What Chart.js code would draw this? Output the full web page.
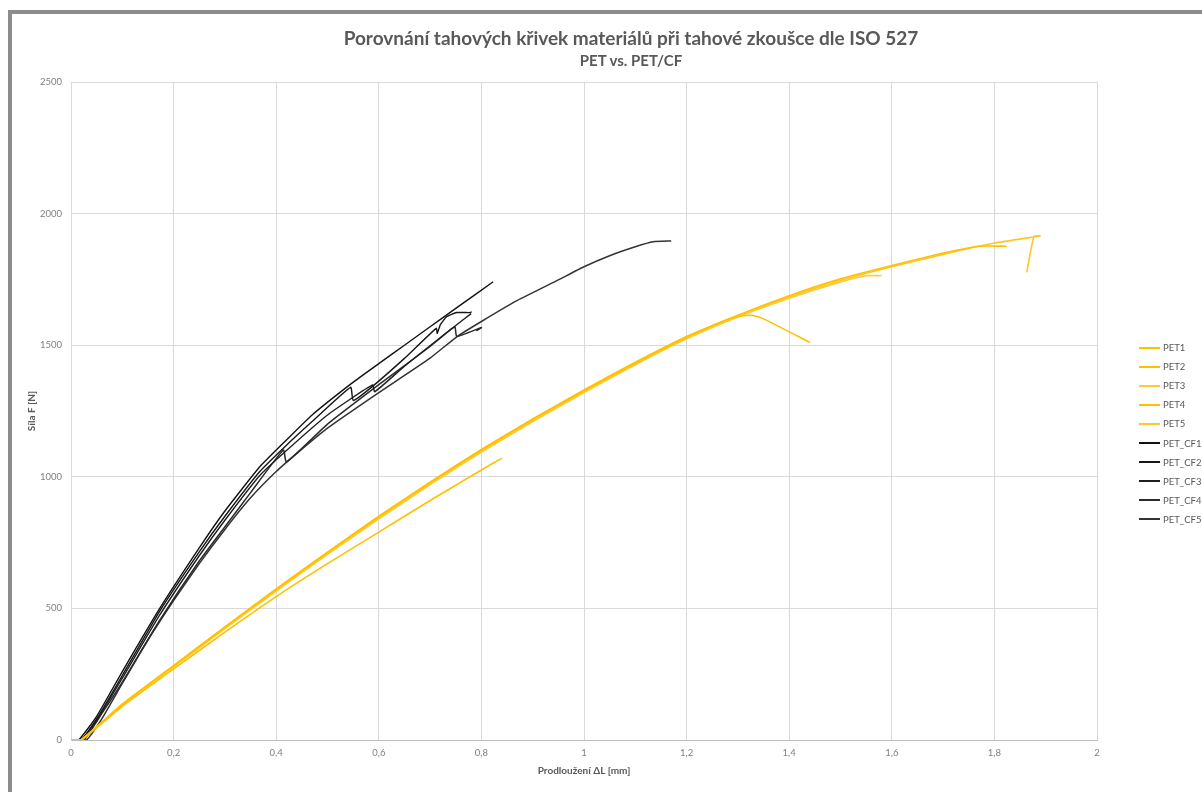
<!DOCTYPE html>
<html>
<head>
<meta charset="utf-8">
<script src="https://cdn.jsdelivr.net/npm/chart.js@4.4.1/dist/chart.umd.min.js"></script>
<style>
  html, body { margin: 0; padding: 0; background: #fff; }
  #wrap { position: relative; width: 1202px; height: 792px; overflow: hidden; }
  #frame { position: absolute; left: 8px; top: 10px; width: 1300px; height: 900px;
           border-left: 4px solid #8c8c8c; border-top: 4px solid #8c8c8c; box-sizing: border-box; }
  canvas { position: absolute; left: 0; top: 0; }
  .ttl { position: absolute; left: 331px; width: 600px; text-align: center; color: #595959;
         font-family: Lato, "Open Sans", sans-serif; font-weight: bold; white-space: nowrap; }
  #t1 { top: 26px; font-size: 19px; }
  #t2 { top: 51px; font-size: 15px; }
  #legend { position: absolute; left: 1139px; top: 338px; font-family: Lato, sans-serif;
            font-size: 9.5px; color: #595959; }
  .li { height: 19.1px; display: flex; align-items: center; }
  .sw { width: 21px; margin-right: 3px; }
</style>
</head>
<body>
<div id="wrap">
  <div id="frame"></div>
  <canvas id="c" width="1202" height="792"></canvas>
  <div class="ttl" id="t1">Porovnání tahových křivek materiálů při tahové zkoušce dle ISO 527</div>
  <div class="ttl" id="t2">PET vs. PET/CF</div>
  <div id="legend"></div>
</div>
<script>
// ---- data (x = prodloužení ΔL [mm], y = síla F [N]) ----
const PET1_X = [0, 0.02, 0.1, 0.2, 0.3, 0.4, 0.5, 0.6, 0.7, 0.8, 0.84];
const PET1_Y = [0, 0, 128, 270, 410, 545, 670, 790, 910, 1026, 1071];

const PET2_X = [0, 0.02, 0.1, 0.2, 0.3, 0.4, 0.5, 0.6, 0.7, 0.8, 0.9, 1.0, 1.1, 1.2, 1.28, 1.31, 1.33, 1.35, 1.44];
const PET2_Y = [0, 0, 135, 282, 428, 572, 712, 848, 978, 1102, 1218, 1328, 1432, 1530, 1598, 1612, 1613, 1600, 1511];

const PET3_X = [0, 0.02, 0.1, 0.2, 0.3, 0.4, 0.5, 0.6, 0.7, 0.8, 0.9, 1.0, 1.1, 1.2, 1.3, 1.4, 1.5, 1.55, 1.58];
const PET3_Y = [0, 0, 133, 278, 423, 566, 705, 840, 970, 1094, 1210, 1320, 1426, 1524, 1607, 1678, 1740, 1764, 1764];

const PET4_X = [0, 0.02, 0.1, 0.2, 0.3, 0.4, 0.5, 0.6, 0.7, 0.8, 0.9, 1.0, 1.1, 1.2, 1.3, 1.4, 1.5, 1.6, 1.7, 1.77, 1.824];
const PET4_Y = [0, 0, 136, 283, 430, 574, 714, 850, 980, 1104, 1220, 1330, 1435, 1533, 1614, 1688, 1752, 1803, 1850, 1876, 1876];

const PET5_X = [0, 0.02, 0.1, 0.2, 0.3, 0.4, 0.5, 0.6, 0.7, 0.8, 0.9, 1.0, 1.1, 1.2, 1.3, 1.4, 1.5, 1.6, 1.7, 1.8, 1.889, 1.877, 1.863];
const PET5_Y = [0, 0, 134, 280, 426, 570, 709, 845, 975, 1099, 1214, 1324, 1429, 1528, 1610, 1683, 1746, 1798, 1845, 1888, 1915, 1913, 1777];

const CF1_X = [0, 0.015, 0.05, 0.1, 0.173, 0.25, 0.3, 0.368, 0.42, 0.47, 0.547, 0.6, 0.65, 0.7, 0.75, 0.823];
const CF1_Y = [0, 0, 90, 260, 500, 730, 870, 1038, 1140, 1235, 1355, 1430, 1500, 1570, 1640, 1741];

const CF2_X = [0, 0.02, 0.05, 0.1, 0.173, 0.25, 0.3, 0.368, 0.42, 0.47, 0.545, 0.55, 0.583, 0.65, 0.712, 0.714, 0.72, 0.732, 0.752, 0.778, 0.781];
const CF2_Y = [0, 0, 80, 245, 490, 715, 850, 1020, 1120, 1210, 1340, 1290, 1336, 1450, 1564, 1545, 1578, 1608, 1624, 1624, 1627];

const CF3_X = [0, 0.02, 0.05, 0.1, 0.173, 0.25, 0.3, 0.368, 0.42, 0.5, 0.588, 0.592, 0.65, 0.714, 0.75, 0.78];
const CF3_Y = [0, 0, 75, 235, 475, 700, 835, 1005, 1100, 1235, 1349, 1323, 1420, 1520, 1575, 1620];

const CF4_X = [0, 0.025, 0.06, 0.1, 0.173, 0.25, 0.3, 0.35, 0.414, 0.42, 0.5, 0.6, 0.7, 0.748, 0.752, 0.8, 0.79];
const CF4_Y = [0, 0, 100, 220, 455, 680, 810, 940, 1102, 1056, 1200, 1350, 1495, 1570, 1533, 1567, 1555];

const CF5_X = [0, 0.03, 0.06, 0.1, 0.15, 0.2, 0.25, 0.3, 0.35, 0.4, 0.45, 0.5, 0.6, 0.7, 0.752, 0.8, 0.87, 0.95, 1.0, 1.05, 1.1, 1.135, 1.17];
const CF5_Y = [0, 0, 80, 215, 380, 530, 670, 800, 920, 1020, 1105, 1185, 1320, 1451, 1532, 1590, 1670, 1748, 1798, 1840, 1874, 1893, 1896];

const SERIES_NAMES = ['PET1', 'PET2', 'PET3', 'PET4', 'PET5', 'PET_CF1', 'PET_CF2', 'PET_CF3', 'PET_CF4', 'PET_CF5'];
const X_TICK_LABELS = ['0', '0,2', '0,4', '0,6', '0,8', '1', '1,2', '1,4', '1,6', '1,8', '2'];
const Y_TICK_LABELS = ['0', '500', '1000', '1500', '2000', '2500'];

// ---- styling ----
const SERIES_X = [PET1_X, PET2_X, PET3_X, PET4_X, PET5_X, CF1_X, CF2_X, CF3_X, CF4_X, CF5_X];
const SERIES_Y = [PET1_Y, PET2_Y, PET3_Y, PET4_Y, PET5_Y, CF1_Y, CF2_Y, CF3_Y, CF4_Y, CF5_Y];
const COLORS = ['#FFC000', '#FFC000', '#FFCB30', '#FFC000', '#FFC52A', '#111111', '#161616', '#1e1e1e', '#2b2b2b', '#333333'];
const WIDTHS = [1.6, 1.6, 1.6, 1.6, 1.6, 1.4, 1.4, 1.4, 1.5, 1.5];
const SWATCH_H = [2, 2, 2, 2, 2, 1.5, 1.5, 1.5, 2, 2];

const datasets = SERIES_NAMES.map((name, i) => ({
  label: name,
  data: SERIES_X[i].map((x, k) => ({ x: x, y: SERIES_Y[i][k] })),
  borderColor: COLORS[i],
  backgroundColor: COLORS[i],
  borderWidth: WIDTHS[i],
  showLine: true,
  pointRadius: 0,
  pointHoverRadius: 0,
  tension: 0.15,
  fill: false
}));

const tickFont = { family: 'Lato, sans-serif', size: 9.5 };

new Chart(document.getElementById('c'), {
  type: 'scatter',
  data: { datasets: datasets },
  options: {
    responsive: false,
    animation: false,
    events: [],
    layout: { padding: { left: 16, right: 105, top: 82, bottom: 0 } },
    plugins: { legend: { display: false }, title: { display: false }, tooltip: { enabled: false } },
    scales: {
      x: {
        type: 'linear', min: 0, max: 2,
        afterFit: s => { s.height = 52; },
        ticks: { stepSize: 0.2, padding: 7, color: '#7f7f7f', font: tickFont, maxRotation: 0,
                 callback: (v, i) => X_TICK_LABELS[i] },
        grid: { color: '#d9d9d9', lineWidth: 1, drawTicks: false },
        border: { color: '#bfbfbf', width: 1 },
        title: { display: true, text: 'Prodloužení ΔL [mm]', color: '#595959',
                 font: { family: 'Lato, sans-serif', size: 10, weight: 'bold' }, padding: { top: 2, bottom: 15 } }
      },
      y: {
        type: 'linear', min: 0, max: 2500,
        afterFit: s => { s.width = 55; },
        ticks: { stepSize: 500, padding: 9, color: '#7f7f7f', font: tickFont,
                 callback: (v, i) => Y_TICK_LABELS[i] },
        grid: { color: '#d9d9d9', lineWidth: 1, drawTicks: false },
        border: { color: '#d9d9d9', width: 1 },
        title: { display: true, text: 'Síla F [N]', color: '#595959',
                 font: { family: 'Lato, sans-serif', size: 10, weight: 'bold' }, padding: { top: 10, bottom: 0 } }
      }
    }
  }
});

// HTML legend built from series names / colours
const lg = document.getElementById('legend');
SERIES_NAMES.forEach((name, i) => {
  const row = document.createElement('div');
  row.className = 'li';
  const sw = document.createElement('div');
  sw.className = 'sw';
  sw.style.height = SWATCH_H[i] + 'px';
  sw.style.background = COLORS[i];
  const t = document.createElement('span');
  t.textContent = name;
  row.appendChild(sw); row.appendChild(t);
  lg.appendChild(row);
});
</script>
</body>
</html>
